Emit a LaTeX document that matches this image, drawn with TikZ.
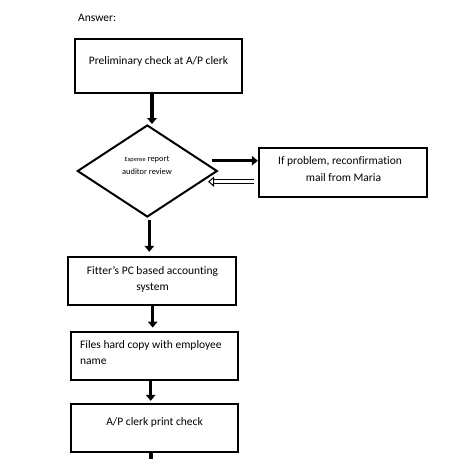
\documentclass[tikz,border=0pt]{standalone}
\usepackage{fontspec}
\setmainfont{Carlito}[Ligatures=NoCommon]
\usetikzlibrary{arrows.meta,shapes.geometric,calc}
\begin{document}
\begin{tikzpicture}[x=1pt,y=-1pt,
  box/.style={draw,line width=2.4pt,rectangle,inner sep=0pt},
  txt/.style={font=\fontsize{11.5}{13.8}\selectfont,inner sep=0pt,anchor=base},
  small/.style={font=\fontsize{8.4}{10}\selectfont,inner sep=0pt,anchor=base},
  down/.style={line width=3.2pt,-{Triangle[length=6pt,width=9.5pt]}},
  hollow/.style={line width=1pt,double distance=2.6pt,-{Triangle[open,length=6pt,width=10pt]}}]
\useasboundingbox[fill=white] (0,0) rectangle (460,458);
% title
\node[txt,anchor=base west] (ans) at (78,21.5) {Answer:};
% boxes
\node[box,minimum width=167pt,minimum height=54pt] (b1) at (158.5,66) {};
\node[txt] (t1) at (158.5,64.5) {Preliminary check at A/P clerk};
\node[draw,line width=2pt,diamond,minimum width=140pt,minimum height=92pt,inner sep=0pt] (d) at (147.3,171) {};
\node[small] (t2a) at (147,161.5) {{\fontsize{6.3}{7}\selectfont Expense} report};
\node[small] (t2b) at (147,174.5) {auditor review};
\node[box,minimum width=168pt,minimum height=48.5pt] (r) at (343,172.5) {};
\node[txt] (t3a) at (340,164.5) {If problem, reconfirmation};
\node[txt] (t3b) at (343.5,181.5) {mail from Maria};
\node[box,minimum width=168pt,minimum height=48pt] (b3) at (152,281) {};
\node[txt] (t4a) at (152.5,274.5) {Fitter’s PC based accounting};
\node[txt] (t4b) at (152.5,290.5) {system};
\node[box,minimum width=167pt,minimum height=48.5pt] (b4) at (154.3,356) {};
\node[txt,anchor=base west] (t5a) at (80,348.5) {Files hard copy with employee};
\node[txt,anchor=base west] (t5b) at (80,364.5) {name};
\node[box,minimum width=167pt,minimum height=48pt] (b5) at (154.3,428) {};
\node[txt] (t6) at (154.5,425.5) {A/P clerk print check};
% connectors
\coordinate (c1) at (152,93);
\draw[down] (c1) -- (c1 |- d.north);
\coordinate (c2) at (149.3,220);
\draw[down] (c2) -- ($(c2 |- b3.north)+(0,-4)$);
\coordinate (c3) at (152.7,305);
\draw[down] (c3) -- ($(c3 |- b4.north)+(0,-3)$);
\coordinate (c4) at (150.7,380);
\draw[down] (c4) -- ($(c4 |- b5.north)+(0,-2)$);
\coordinate (c5) at (151,453);
\coordinate (c6) at (151,475);
\draw[down] (c5) -- (c6);
\coordinate (ra) at (212,160.7);
\draw[down] (ra) -- (ra -| r.west);
\coordinate (la) at (208,181.7);
\draw[hollow] ($(la -| r.west)+(-4,0)$) -- (la);
\end{tikzpicture}
\end{document}
